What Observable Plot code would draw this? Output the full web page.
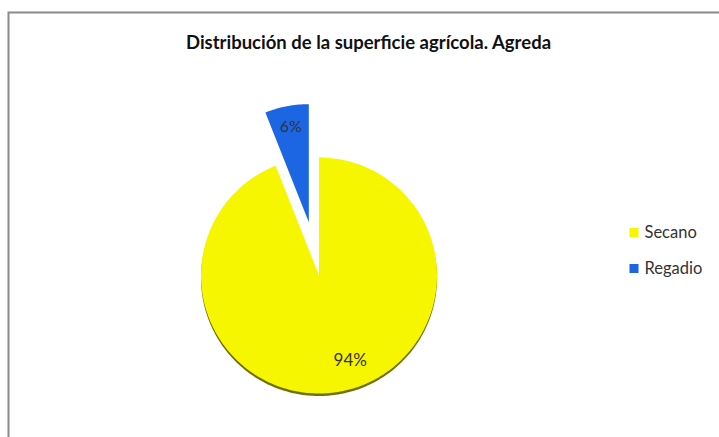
<!DOCTYPE html>
<html>
<head>
<meta charset="utf-8">
<script src="https://cdn.jsdelivr.net/npm/d3@7"></script>
<script src="https://cdn.jsdelivr.net/npm/@observablehq/plot@0.6"></script>
<style>
  html, body { margin: 0; padding: 0; background: #fff; }
  svg { display: block; }
</style>
</head>
<body>
<div id="chart"></div>
<script>
const title = "Distribución de la superficie agrícola. Agreda";
const categories = ["Secano", "Regadio"];
const values = [94, 6];
const colors = ["#f6f600", "#1c66e4"];
const labels = ["94%", "6%"];

// layout (pixels)
const W = 719, H = 437;
const cx = 318.5, cy = 275, R = 118;
const explode = [0, 0.46];         // fraction of radius
const labelRadius = [0.735, 0.82];
const labelDx = [15, 0];

const rows = categories.map((c, i) => ({name: c, value: values[i], label: labels[i], i}));
const arcs = d3.pie().sort(null).value(d => d.value)(rows);

const poly = [];
const labelPts = [];
for (const a of arcs) {
  const mid = (a.startAngle + a.endAngle) / 2;
  const e = explode[a.data.i];
  const ox = e * Math.sin(mid), oy = e * Math.cos(mid);
  poly.push({name: a.data.name, x: ox, y: oy});
  const n = Math.max(4, Math.ceil((a.endAngle - a.startAngle) / (Math.PI / 180)));
  for (let k = 0; k <= n; k++) {
    const t = a.startAngle + (a.endAngle - a.startAngle) * k / n;
    poly.push({name: a.data.name, x: ox + Math.sin(t), y: oy + Math.cos(t)});
  }
  poly.push({name: a.data.name, x: ox, y: oy});
  const lr = labelRadius[a.data.i];
  labelPts.push({label: a.data.label, x: ox + lr * Math.sin(mid), y: oy + lr * Math.cos(mid)});
}

const px2x = px => (px - cx) / R;
const px2y = py => (cy - py) / R;
const font = "Lato, 'Open Sans', sans-serif";

const plot = Plot.plot({
  width: W,
  height: H,
  marginLeft: 8, marginTop: 12, marginRight: 0, marginBottom: 0,
  x: {domain: [-1, 1], range: [cx - R, cx + R], axis: null},
  y: {domain: [-1, 1], range: [cy + R, cy - R], axis: null},
  color: {domain: categories, range: colors},
  style: {fontFamily: font, background: "#fff"},
  marks: [
    Plot.frame({stroke: "#8a8a8a", strokeWidth: 2, insetRight: -6, insetBottom: -6}),
    // bottom bevel shadow of the large slice
    Plot.line(poly.filter(d => d.name === categories[0]), {x: "x", y: "y", z: "name", fill: "#707000", stroke: null, dy: 2.5}),
    Plot.line(poly, {x: "x", y: "y", z: "name", fill: "name", stroke: null}),
    Plot.text(labelPts.slice(0, 1), {x: "x", y: "y", text: "label", dx: labelDx[0], fontSize: 17, fill: "#333", fontFamily: font}),
    Plot.text(labelPts.slice(1), {x: "x", y: "y", text: "label", dx: labelDx[1], fontSize: 16, fill: "#333", fontFamily: font}),
    Plot.text([title], {frameAnchor: "top-left", dx: 368 - 8, dy: 43 - 12, fontSize: 18.5, fontWeight: "bold", fill: "#111", textAnchor: "middle", lineAnchor: "middle", fontFamily: font}),
    Plot.dot(categories, {x: () => px2x(633.5), y: (d, i) => px2y(232 + i * 36), fill: d => d, symbol: "square", r: 5.1, stroke: null}),
    Plot.text(categories, {x: () => px2x(644), y: (d, i) => px2y(232 + i * 36), text: d => d, textAnchor: "start", fontSize: 16.5, fill: "#333", fontFamily: font})
  ]
});
document.getElementById("chart").appendChild(plot);
</script>
</body>
</html>
